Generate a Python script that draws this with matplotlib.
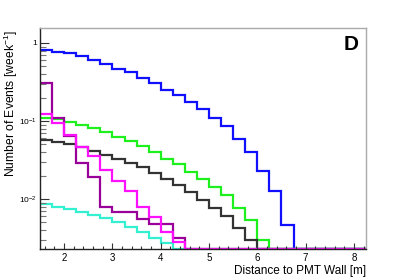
import numpy as np
import matplotlib
matplotlib.use("Agg")
import matplotlib.pyplot as plt
from matplotlib.ticker import FixedLocator, LogLocator, NullFormatter, FixedFormatter

plt.rcParams['font.family'] = ['Liberation Sans', 'DejaVu Sans']
plt.rcParams['mathtext.fontset'] = 'custom'
plt.rcParams['mathtext.rm'] = 'Liberation Sans'
plt.rcParams['mathtext.it'] = 'Liberation Sans:italic'

# bin edges: 0.25 m bins starting at 1.5 m
bin_start = 1.5
bin_width = 0.25
n_bins = 27

blue = [0.81, 0.77, 0.74, 0.68, 0.61, 0.54, 0.47, 0.42, 0.36, 0.305, 0.25, 0.215,
        0.174, 0.141, 0.11, 0.086, 0.059, 0.040, 0.023, 0.0128, 0.0046]
green = [0.108, 0.106, 0.098, 0.089, 0.081, 0.073, 0.063, 0.055, 0.048, 0.040, 0.033,
         0.028, 0.0225, 0.018, 0.0143, 0.0112, 0.0077, 0.0054, 0.0030]
black = [0.057, 0.053, 0.0507, 0.047, 0.041, 0.0366, 0.0322, 0.0287, 0.0255, 0.0213,
         0.0178, 0.0151, 0.0124, 0.0098, 0.0077, 0.0060, 0.0042, 0.0030]
magenta = [0.123, 0.093, 0.067, 0.047, 0.0356, 0.0237, 0.0172, 0.0126, 0.0079, 0.0058,
           0.0038, 0.0028]
purple = [0.31, 0.108, 0.064, 0.0288, 0.0194, 0.0078, 0.0068, 0.0068, 0.0055, 0.0048,
          0.0048, 0.0032]
cyan = [0.0086, 0.0078, 0.0074, 0.0069, 0.0062, 0.0057, 0.0050, 0.0044, 0.0038,
        0.0032, 0.0027]

x_ticks = [2, 3, 4, 5, 6, 7, 8]
y_ticks = [1, 0.1, 0.01]
y_tick_labels = ['1', r'$10^{-1}$', r'$10^{-2}$']

ymin, ymax = 0.00232, 1.556
xmin, xmax = 1.5, 8.25

series = [
    (blue, '#1010ff'),
    (green, '#1ef01e'),
    (black, '#333333'),
    (cyan, '#33f0d0'),
    (purple, '#990099'),
    (magenta, '#ff10ff'),
]

W, H = 407, 277
fig = plt.figure(figsize=(W / 100, H / 100), dpi=100)
L, R, T, B = 40, 366, 28, 248.5
ax = fig.add_axes([L / W, (H - B) / H, (R - L) / W, (B - T) / H])

edges = bin_start + bin_width * np.arange(n_bins + 1)
for vals, col in series:
    v = np.zeros(n_bins)
    v[:len(vals)] = vals
    v = np.where(v > 0, v, ymin)
    ax.stairs(v, edges, baseline=None, color=col, lw=1.6)

ax.set_yscale('log')
ax.set_xlim(xmin, xmax)
ax.set_ylim(ymin, ymax)

ax.xaxis.set_major_locator(FixedLocator(x_ticks))
ax.xaxis.set_minor_locator(FixedLocator(np.arange(1.6, 8.25, 0.2)))
ax.yaxis.set_major_locator(FixedLocator(y_ticks))
ax.yaxis.set_major_formatter(FixedFormatter(y_tick_labels))
ax.yaxis.set_minor_locator(LogLocator(base=10, subs=np.arange(2, 10)))
ax.yaxis.set_minor_formatter(NullFormatter())

ax.tick_params(axis='both', which='both', direction='in', top=False, right=False,
               labelsize=7, color='#333333')
ax.tick_params(axis='y', which='major', length=6.5, width=0.8, pad=2, labelsize=6)
ax.tick_params(axis='y', which='minor', length=4, width=0.8, color='#777777')
ax.tick_params(axis='x', which='major', length=4.3, width=0.8, pad=3)
ax.tick_params(axis='x', which='minor', length=2.2, width=0.8)

for s in ['left', 'bottom']:
    ax.spines[s].set_color('#222222')
    ax.spines[s].set_linewidth(1.0)
for s in ['top', 'right']:
    ax.spines[s].set_color('#aaaaaa')
    ax.spines[s].set_linewidth(1.0)

ax.set_xlabel('Distance to PMT Wall [m]', fontsize=8.5, loc='right', labelpad=2)
fig.text(11 / W, 1 - 30 / H, r'Number of Events [week$^{-1}$]', fontsize=8.7,
         rotation=90, ha='center', va='top')

ax.text(0.954, 0.925, 'D', transform=ax.transAxes, fontsize=15, fontweight='bold',
        ha='center', va='center')

fig.savefig('out.png', dpi=100)
